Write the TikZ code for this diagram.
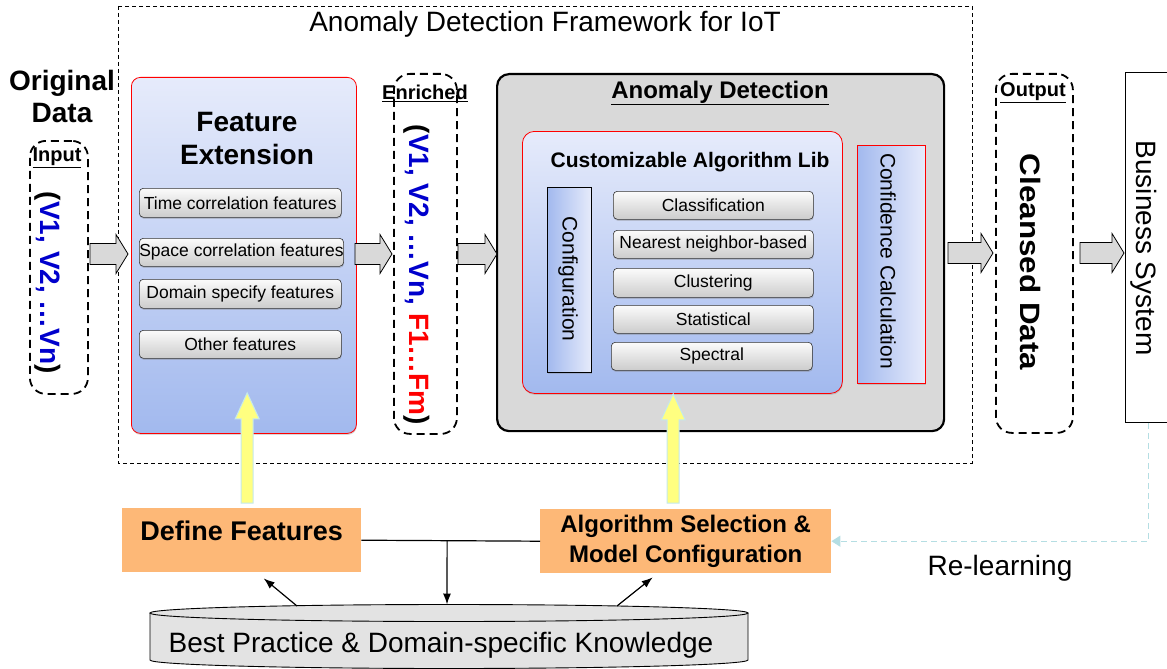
\documentclass[tikz,border=0pt]{standalone}
\usepackage{fontspec}
\setmainfont{Liberation Sans}
\usetikzlibrary{calc,shadows,arrows.meta}

\definecolor{panellight}{HTML}{E6EBFB}
\definecolor{paneldark}{HTML}{A2B9EE}
\definecolor{arrowgray}{HTML}{D9D9D9}
\definecolor{adgray}{HTML}{D9D9D9}
\definecolor{tangerine}{HTML}{FDB877}
\definecolor{paleyellow}{HTML}{FFFF80}
\definecolor{paleaqua}{HTML}{C4E8EC}
\definecolor{relearncol}{HTML}{B5DEE3}
\definecolor{kbgray}{HTML}{E3E3E3}
\definecolor{vblue}{HTML}{0000CC}
\definecolor{fred}{HTML}{FF0000}

\tikzset{
  frame/.style={draw, line width=0.9pt, dash pattern=on 4pt off 3pt},
  databox/.style={draw, line width=1.8pt, dash pattern=on 8pt off 5pt, rounded corners=16pt},
  panel/.style={draw=red, line width=0.8pt, top color=panellight, bottom color=paneldark,
    rounded corners=9pt, drop shadow={opacity=.3, shadow xshift=.5pt, shadow yshift=-1.5pt}},
  sidepanel/.style={draw=#1, line width=0.8pt, left color=paneldark, right color=panellight,
    drop shadow={opacity=.3, shadow xshift=.5pt, shadow yshift=-1.5pt}},
  bar/.style={draw=black!80, line width=.6pt, rounded corners=4pt, top color=gray!3,
    bottom color=gray!40, inner sep=0pt, font=\fontsize{17.5}{21}\selectfont,
    drop shadow={opacity=.35, shadow xshift=.5pt, shadow yshift=-1.5pt}},
  tag/.style={font=\fontsize{20}{23}\selectfont\bfseries},
  vtext/.style={rotate=-90, inner sep=0pt},
  task/.style={fill=tangerine, inner sep=0pt, align=center, font=\fontsize{24}{31}\selectfont\bfseries},
  flow/.style={-{Latex[length=11pt,width=8pt]}, line width=1.2pt},
  fatarrow/.style={draw=paleaqua, fill=paleyellow, line width=1pt, to path={
    let \p1=(\tikztostart), \p2=(\tikztotarget) in
    (\x1-6pt,\y1) -- (\x1-6pt,\y2-26pt) -- (\x1-12pt,\y2-26pt) -- (\x1,\y2)
    -- (\x1+12pt,\y2-26pt) -- (\x1+6pt,\y2-26pt) -- (\x1+6pt,\y1) -- cycle}},
  relearn/.style={draw=relearncol, line width=1.3pt, dash pattern=on 6pt off 4pt,
    -{Triangle[length=9pt,width=11pt,fill=relearncol]}},
  pics/blockarr/.style={code={
    \draw[fill=arrowgray, line width=.8pt] (0,-10.5) -- (#1-12,-10.5) -- (#1-12,-19.5)
      -- (#1,0) -- (#1-12,19.5) -- (#1-12,10.5) -- (0,10.5) -- cycle;}}
}

\begin{document}
\begin{tikzpicture}[x=1pt,y=-1pt]
\useasboundingbox (0,0) rectangle (1167,669);

% framework frame
\draw[frame] (118,6) rectangle (972,463);
\node[font=\fontsize{28}{32}\selectfont] (fwtitle) at (545,24) {Anomaly Detection Framework for IoT};

% input data
\node[font=\fontsize{28}{32}\selectfont\bfseries, align=center] (orig) at (62,96) {Original\\Data};
\node[databox, anchor=north west, minimum width=58, minimum height=253] (input) at (29,140) {};
\node[tag] (inputlbl) at (57,158) {\underline{Input}};
\node[vtext, font=\fontsize{28}{32}\selectfont\bfseries] (invars) at (48,283)
  {(\textcolor{vblue}{V1, V2, …Vn})};

% feature extension
\node[panel, anchor=north west, minimum width=225, minimum height=356] (fext) at (131,77) {};
\node[font=\fontsize{28}{33}\selectfont\bfseries, align=center] (fexttitle) at (247,139) {Feature\\Extension};
\node[bar, anchor=north west, minimum width=202, minimum height=29] (timef) at (139,188) {Time correlation features};
\node[bar, anchor=north west, minimum width=202, minimum height=28] (spacef) at (139,238) {Space correlation features};
\node[bar, anchor=north west, minimum width=202, minimum height=29] (domainf) at (139,279) {Domain specify features};
\node[bar, anchor=north west, minimum width=202, minimum height=28] (otherf) at (139,330) {Other features};

% enriched data
\node[databox, anchor=north west, minimum width=63, minimum height=360] (enriched) at (393,73) {};
\node[tag] (enrichedlbl) at (425,93) {\underline{Enriched}};
\node[vtext, font=\fontsize{28}{32}\selectfont\bfseries] (envars) at (417,275)
  {(\textcolor{vblue}{V1, V2, …Vn,} \textcolor{fred}{F1…Fm})};

% anomaly detection
\node[draw, line width=2.2pt, fill=adgray, rounded corners=12pt, anchor=north west,
  minimum width=447, minimum height=357] (adbox) at (496,73) {};
\node[font=\fontsize{24}{28}\selectfont\bfseries] (adtitle) at (720,93) {\underline{Anomaly Detection}};
\node[panel, rounded corners=12pt, anchor=north west, minimum width=320, minimum height=262] (alglib) at (522,131) {};
\node[font=\fontsize{21}{25}\selectfont\bfseries] (libtitle) at (690,162) {Customizable Algorithm Lib};
\node[sidepanel=black, anchor=north west, minimum width=44, minimum height=185] (config) at (547,187) {};
\node[vtext, font=\fontsize{21}{25}\selectfont] (configlbl) at (568,279) {Configuration};
\node[bar, anchor=north west, minimum width=200, minimum height=28] (classif) at (613,191) {Classification};
\node[bar, anchor=north west, minimum width=200, minimum height=28] (nearest) at (613,230) {Nearest neighbor-based};
\node[bar, anchor=north west, minimum width=200, minimum height=29] (cluster) at (613,268) {Clustering};
\node[bar, anchor=north west, minimum width=200, minimum height=28] (stat) at (613,305) {Statistical};
\node[bar, anchor=north west, minimum width=201, minimum height=28] (spectral) at (611,342) {Spectral};
\node[sidepanel=red, anchor=north west, minimum width=68, minimum height=238] (conf) at (857,145) {};
\node[vtext, font=\fontsize{21}{25}\selectfont] (conflbl) at (888,261) {Confidence Calculation};

% output and business system
\node[databox, anchor=north west, minimum width=77, minimum height=359] (output) at (995,73) {};
\node[tag] (outputlbl) at (1033,93) {\underline{Output}};
\node[vtext, font=\fontsize{28}{32}\selectfont\bfseries] (cleansed) at (1030,262)
  {\scalebox{1.12}[1]{Cleansed Data}};
\node[draw, line width=0.8pt, fill=white, anchor=north west, minimum width=46, minimum height=350] (bsys) at (1125,72) {};
\node[vtext, font=\fontsize{28}{32}\selectfont] (bsyslbl) at (1144,248) {Business System};

% block arrows
\pic at (90,254) {blockarr=38};
\pic at (355,254) {blockarr=37};
\pic at (458,254) {blockarr=39};
\pic at (948,253) {blockarr=45};
\pic at (1080,253) {blockarr=44};

% knowledge base
\fill[kbgray] (150,613) -- (150,660) arc[start angle=180, end angle=360, x radius=299pt, y radius=8.5pt] -- (748,613) -- cycle;
\draw[line width=.9pt] (150,613) -- (150,660) arc[start angle=180, end angle=360, x radius=299pt, y radius=8.5pt] -- (748,613);
\draw[line width=.9pt, fill=kbgray] (449,613) ellipse [x radius=299pt, y radius=8.5pt];
\node[font=\fontsize{28}{32}\selectfont] (kb) at (441,645) {Best Practice \& Domain-specific Knowledge};
\coordinate (kbtop) at (447,604.5);
\coordinate (kbleft) at (297,606);
\coordinate (kbright) at (617,606);

% configuration tasks
\node[task, font=\fontsize{27}{31}\selectfont\bfseries, text depth=18pt, anchor=north west, minimum width=239, minimum height=64] (dfeat) at (122,508) {Define Features};
\node[task, anchor=north west, minimum width=291, minimum height=64] (algsel) at (540,509) {Algorithm Selection \&\\[-1pt]Model Configuration};

\draw[line width=1.2pt] (dfeat.east) -- (algsel.west);
\coordinate (split) at ($(dfeat.east)!0.48!(algsel.west)$);
\draw[flow] (split) -- (kbtop);
\draw[flow] (kbleft) -- ($(dfeat.south)+(22,6)$);
\draw[flow] (kbright) -- ($(algsel.south)+(-33,4)$);

\draw[fatarrow] ($(dfeat.north)+(5.5,-5)$) to ($(fext.south)+(4,-41)$);
\draw[fatarrow] ($(algsel.north)+(-12.5,-6)$) to (alglib.south);

% feedback loop
\draw[relearn] (bsys.south) |- (algsel.east);
\node[font=\fontsize{28}{32}\selectfont] (relearnlbl) at (1000,568) {Re-learning};
\end{tikzpicture}
\end{document}
